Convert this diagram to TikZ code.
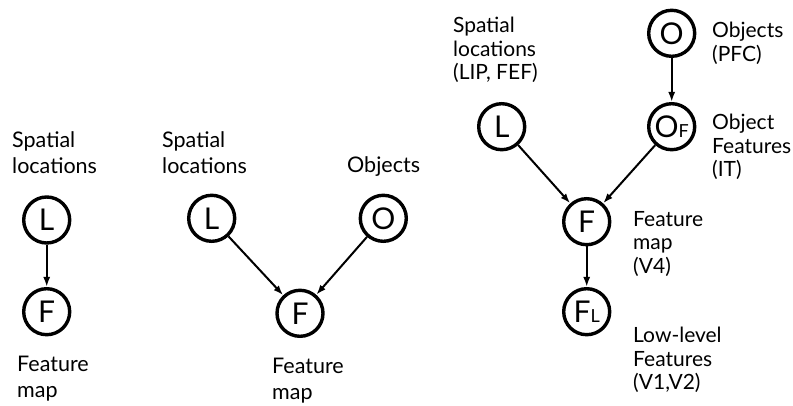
\documentclass[tikz,border=0pt]{standalone}
\usepackage{fontspec}
\setmainfont{Lato}
\usetikzlibrary{arrows.meta}
\begin{document}
\begin{tikzpicture}[x=1pt,y=-1pt,
  var/.style={circle,draw,line width=3.4pt,minimum size=46pt,inner sep=0pt,font=\fontsize{30}{32}\selectfont},
  lbl/.style={anchor=north west,align=left,inner sep=0pt,font=\fontsize{21.5}{26}\selectfont},
  lblb/.style={anchor=north west,align=left,inner sep=0pt,font=\fontsize{21}{23.5}\selectfont},
  arr/.style={line width=2pt,-{Latex[length=10pt,width=7pt]}}]
\useasboundingbox (0,0) rectangle (793,406);
% panel 1
\node[var] (L1) at (46.7,220) {L};
\node[var] (F1) at (46.7,311.7) {F};
\node[lbl] (tL1) at (12,131) {Spatial\\locations};
\node[lbl] (tF1) at (17,356) {Feature\\map};
\draw[arr] (L1) -- (F1);
% panel 2
\node[var] (L2) at (211.7,218.3) {L};
\node[var] (O2) at (383.3,218.3) {O};
\node[var] (F2) at (300,313.3) {F};
\node[lbl] (tL2) at (162,131) {Spatial\\locations};
\node[lbl] (tO2) at (347,156) {Objects};
\node[lbl] (tF2) at (272,358) {Feature\\map};
\draw[arr] (L2) -- (F2);
\draw[arr] (O2) -- (F2);
% panel 3
\node[var] (O3) at (671.7,33.3) {O};
\node[var] (OF3) at (671.7,126.7) {O\fontsize{18}{18}\selectfont F};
\node[var] (L3) at (501.7,126.7) {L};
\node[var] (F3) at (586.7,221.7) {F};
\node[var] (FL3) at (586.7,311.7) {F\fontsize{18}{18}\selectfont L};
\node[lblb] (tL3) at (453,17) {Spatial\\locations\\(LIP, FEF)};
\node[lblb] (tO3) at (712,22) {Objects\\(PFC)};
\node[lblb] (tOF3) at (712,114) {Object\\Features\\(IT)};
\node[lblb] (tF3) at (633,211) {Feature\\map\\(V4)};
\node[lblb] (tFL3) at (633,327) {Low-level\\Features\\(V1,V2)};
\draw[arr] (O3) -- (OF3);
\draw[arr] (L3) -- (F3);
\draw[arr] (OF3) -- (F3);
\draw[arr] (F3) -- (FL3);
\end{tikzpicture}
\end{document}
